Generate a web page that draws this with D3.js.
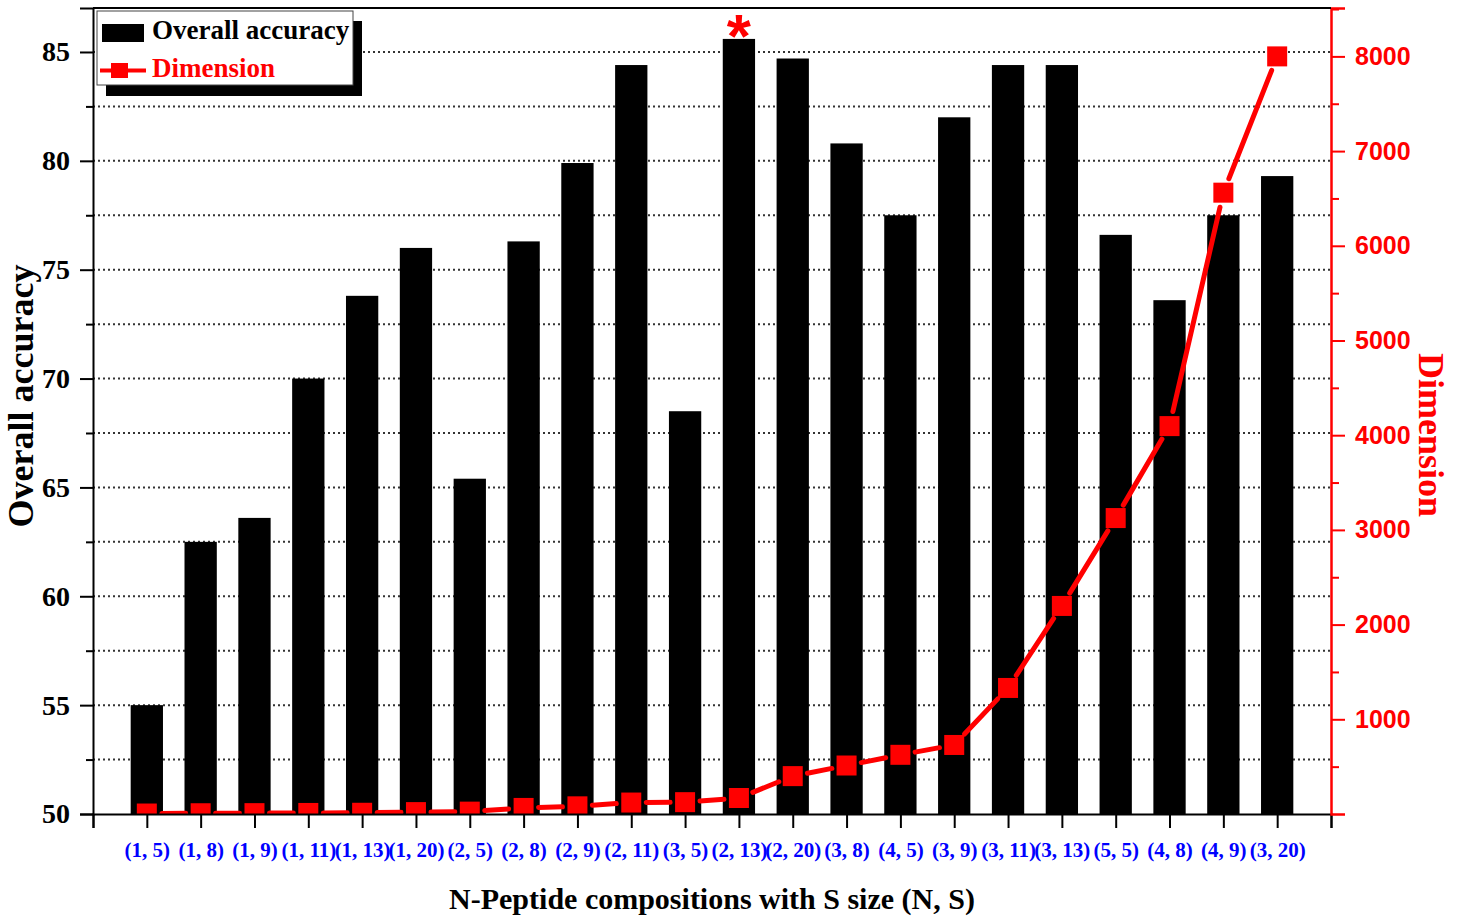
<!DOCTYPE html>
<html>
<head>
<meta charset="utf-8">
<script src="https://cdn.jsdelivr.net/npm/d3@7"></script>
<style>
	html, body { margin:0; padding:0; background:#fff; }
	svg { display:block; }
	.serif { font-family:"Liberation Serif","Times New Roman",serif; font-weight:bold; }
	.sans { font-family:"Liberation Sans",Arial,sans-serif; font-weight:bold; }
</style>
</head>
<body>
<svg id="CHART"></svg>
<script>
// data
var categories = ["(1, 5)","(1, 8)","(1, 9)","(1, 11)","(1, 13)","(1, 20)","(2, 5)","(2, 8)","(2, 9)","(2, 11)","(3, 5)",
	"(2, 13)","(2, 20)","(3, 8)","(4, 5)","(3, 9)","(3, 11)","(3, 13)","(5, 5)","(4, 8)","(4, 9)","(3, 20)"];
var accuracy = [55.0, 62.5, 63.6, 70.0, 73.8, 76.0, 65.4, 76.3, 79.9, 84.4, 68.5,
	85.6, 84.7, 80.8, 77.5, 82.0, 84.4, 84.4, 76.6, 73.6, 77.5, 79.3];
var dimension = [5, 8, 9, 11, 13, 20, 25, 64, 81, 121, 125,
	169, 400, 512, 625, 729, 1331, 2197, 3125, 4096, 6561, 8000];
var accTicks = [50, 55, 60, 65, 70, 75, 80, 85];
var accMinor = [52.5, 57.5, 62.5, 67.5, 72.5, 77.5, 82.5];
var dimTicks = [1000, 2000, 3000, 4000, 5000, 6000, 7000, 8000];
var dimMinor = [500, 1500, 2500, 3500, 4500, 5500, 6500, 7500, 8500];
var bestIndex = 11;

(function(){
	var width = 1460, height = 918,
		left = 93, right = 1331, top = 8, bottom = 814;

	var svg = d3.select("#CHART").attr("width", width).attr("height", height);

	var x = d3.scaleLinear().domain([0, categories.length + 1]).range([left, right]);
	var y = d3.scaleLinear().domain([50, 87.02]).range([bottom, top]);
	var y2 = d3.scaleLinear().domain([0, 8511]).range([bottom, top]);
	var barW = (x(1) - x(0)) * 0.6;

	svg.append("defs").append("clipPath").attr("id", "plotClip")
		.append("rect").attr("x", left).attr("y", top).attr("width", right - left).attr("height", bottom - top);

	/******** grid ********/
	svg.append("g").selectAll("line")
		.data(accTicks.concat(accMinor).filter(function(d){ return d > 50; }))
		.enter().append("line")
		.attr("x1", left).attr("x2", right)
		.attr("y1", function(d){ return y(d); }).attr("y2", function(d){ return y(d); })
		.style("stroke", "#333").style("stroke-width", 2).style("stroke-dasharray", "2,3");

	/******** bars ********/
	svg.append("g").selectAll("rect")
		.data(accuracy)
		.enter().append("rect")
		.attr("x", function(d, i){ return x(i + 1) - barW / 2; })
		.attr("y", function(d){ return y(d); })
		.attr("width", barW)
		.attr("height", function(d){ return bottom - y(d); })
		.style("fill", "#000");

	/******** dimension line ********/
	var pts = dimension.map(function(d, i){ return [x(i + 1), y2(d)]; });
	var gap = 15;
	var lineG = svg.append("g").attr("clip-path", "url(#plotClip)");
	for (var i = 0; i < pts.length - 1; i++) {
		var p0 = pts[i], p1 = pts[i + 1],
			dx = p1[0] - p0[0], dy = p1[1] - p0[1],
			len = Math.sqrt(dx * dx + dy * dy);
		if (len <= gap * 2) continue;
		var ux = dx / len, uy = dy / len;
		lineG.append("line")
			.attr("x1", p0[0] + ux * gap).attr("y1", p0[1] + uy * gap)
			.attr("x2", p1[0] - ux * gap).attr("y2", p1[1] - uy * gap)
			.style("stroke", "#ff0000").style("stroke-width", 5).style("stroke-linecap", "round");
	}
	lineG.selectAll("rect.mk")
		.data(pts)
		.enter().append("rect")
		.attr("class", "mk")
		.attr("x", function(d){ return d[0] - 10; })
		.attr("y", function(d){ return d[1] - 10; })
		.attr("width", 20).attr("height", 20)
		.style("fill", "#ff0000");

	// best marker
	svg.append("text").attr("class", "sans")
		.attr("x", x(bestIndex + 1)).attr("y", y(accuracy[bestIndex]) + 18)
		.attr("text-anchor", "middle")
		.style("font-size", "62px").style("fill", "#ff0000")
		.text("*");

	/******** axes ********/
	var xAxis = svg.append("g").attr("transform", "translate(0," + bottom + ")")
		.call(d3.axisBottom(x).tickValues(d3.range(0, categories.length + 2))
			.tickSize(14).tickPadding(14)
			.tickFormat(function(d){ return categories[d - 1] || ""; }));
	xAxis.select(".domain").style("stroke", "#000").style("stroke-width", 2);
	xAxis.selectAll(".tick line").style("stroke", "#000").style("stroke-width", 2);
	xAxis.selectAll("text").attr("class", "serif").style("font-size", "21px").style("fill", "#0000ff");

	var yAxis = svg.append("g").attr("transform", "translate(" + left + ",0)")
		.call(d3.axisLeft(y).tickValues(accTicks).tickSize(13).tickPadding(10));
	svg.append("g").attr("transform", "translate(" + left + ",0)")
		.call(d3.axisLeft(y).tickValues(accMinor).tickSize(7).tickFormat(""))
		.call(function(g){ g.select(".domain").remove(); g.selectAll("line").style("stroke", "#000").style("stroke-width", 2); });
	yAxis.select(".domain").style("stroke", "#000").style("stroke-width", 2);
	yAxis.selectAll(".tick line").style("stroke", "#000").style("stroke-width", 2);
	yAxis.selectAll("text").attr("class", "serif").style("font-size", "28px").style("fill", "#000");

	var y2Axis = svg.append("g").attr("transform", "translate(" + right + ",0)")
		.call(d3.axisRight(y2).tickValues(dimTicks).tickSize(14).tickPadding(10).tickFormat(d3.format("d")));
	svg.append("g").attr("transform", "translate(" + right + ",0)")
		.call(d3.axisRight(y2).tickValues(dimMinor).tickSize(8).tickFormat(""))
		.call(function(g){ g.select(".domain").remove(); g.selectAll("line").style("stroke", "#ff0000").style("stroke-width", 2); });
	y2Axis.select(".domain").style("stroke", "#ff0000").style("stroke-width", 2.5);
	y2Axis.selectAll(".tick line").style("stroke", "#ff0000").style("stroke-width", 2);
	y2Axis.selectAll("text").attr("class", "sans").style("font-size", "25px").style("fill", "#ff0000");

	// top border
	svg.append("line").attr("x1", left).attr("x2", right).attr("y1", top).attr("y2", top)
		.style("stroke", "#000").style("stroke-width", 2);

	/******** titles ********/
	svg.append("text").attr("class", "serif")
		.attr("transform", "translate(33,396) rotate(-90)")
		.attr("text-anchor", "middle").style("font-size", "36px").style("fill", "#000")
		.text("Overall accuracy");
	svg.append("text").attr("class", "serif")
		.attr("transform", "translate(1419,435) rotate(90)")
		.attr("text-anchor", "middle").style("font-size", "36px").style("fill", "#ff0000")
		.text("Dimension");
	svg.append("text").attr("class", "serif")
		.attr("x", (left + right) / 2).attr("y", 909)
		.attr("text-anchor", "middle").style("font-size", "30px").style("fill", "#000")
		.text("N-Peptide compositions with S size (N, S)");

	/******** legend ********/
	var lg = svg.append("g");
	lg.append("rect").attr("x", 106).attr("y", 21).attr("width", 256).attr("height", 75).style("fill", "#000");
	lg.append("rect").attr("x", 97).attr("y", 11).attr("width", 256).attr("height", 74)
		.style("fill", "#fff").style("stroke", "#444").style("stroke-width", 1);
	lg.append("rect").attr("x", 102).attr("y", 24).attr("width", 42).attr("height", 18).style("fill", "#000");
	lg.append("text").attr("class", "serif").attr("x", 152).attr("y", 39)
		.style("font-size", "27px").style("fill", "#000").text("Overall accuracy");
	lg.append("line").attr("x1", 100).attr("x2", 146).attr("y1", 70.5).attr("y2", 70.5)
		.style("stroke", "#ff0000").style("stroke-width", 4);
	lg.append("rect").attr("x", 111).attr("y", 63).attr("width", 17).attr("height", 15).style("fill", "#ff0000");
	lg.append("text").attr("class", "serif").attr("x", 152).attr("y", 77)
		.style("font-size", "27px").style("fill", "#ff0000").text("Dimension");
})();
</script>
</body>
</html>
